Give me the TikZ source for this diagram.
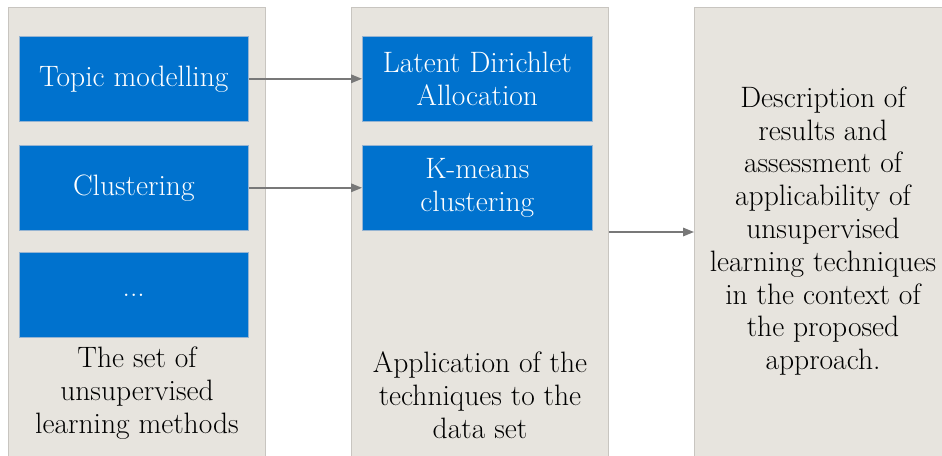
\documentclass[tikz,border=0pt]{standalone}
\usetikzlibrary{arrows.meta}
\definecolor{panelfill}{RGB}{231,228,222}
\definecolor{panelline}{RGB}{200,197,192}
\definecolor{boxblue}{RGB}{0,114,206}
\definecolor{boxline}{RGB}{150,180,210}
\definecolor{arrowgray}{RGB}{120,120,120}
\begin{document}
\begin{tikzpicture}[x=1pt,y=-1pt,
  panel/.style={draw=panelline,line width=0.8pt,fill=panelfill,inner sep=0pt,
    minimum width=257pt,minimum height=450pt,anchor=north west},
  bluebox/.style={draw=boxline,line width=0.6pt,fill=boxblue,text=white,align=center,
    inner sep=0pt,minimum width=229pt,minimum height=85pt,anchor=north west,
    font=\fontsize{29.5}{33}\selectfont},
  caption/.style={align=center,text=black,font=\fontsize{29.5}{32.8}\selectfont},
  link/.style={draw=arrowgray,line width=1.6pt,-{Triangle[length=11pt,width=8.5pt]}}]
\useasboundingbox (0,0) rectangle (942,455);
% panels
\node[panel] (p1) at (8,7) {};
\node[panel] (p2) at (351,7) {};
\node[panel,minimum width=252pt] (p3) at (694,7) {};
% method boxes
\node[bluebox] (topic) at (19,36) {Topic modelling};
\node[bluebox] (clust) at (19,145) {Clustering};
\node[bluebox] (more) at (19,252) {...};
% applied techniques
\node[bluebox,minimum width=230pt] (lda) at (362,36) {Latent Dirichlet\\Allocation};
\node[bluebox,minimum width=230pt] (km) at (362,145) {K-means\\clustering};
% captions
\node[caption] (c1) at (137,393) {The set of\\unsupervised\\learning methods};
\node[caption] (c2) at (480,395) {Application of the\\techniques to the\\data set};
\node[caption] (c3) at (823,231) {Description of\\results and\\assessment of\\applicability of\\unsupervised\\learning techniques\\in the context of\\the proposed\\approach.};
% connectors
\draw[link] (topic.east) -- (lda.west);
\draw[link] (clust.east) -- (km.west);
\draw[link] (p2.east |- 0,232) -- (p3.west |- 0,232);
\end{tikzpicture}
\end{document}
